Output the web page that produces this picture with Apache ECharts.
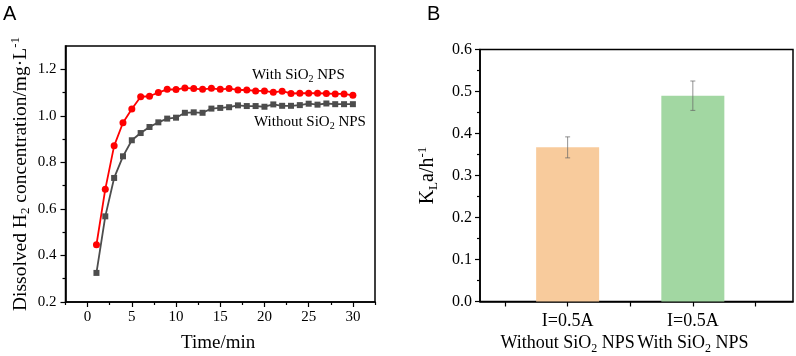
<!DOCTYPE html>
<html><head><meta charset="utf-8">
<script src="https://cdn.jsdelivr.net/npm/echarts@6/dist/echarts.min.js"></script>
<style>html,body{margin:0;padding:0;background:#fff}#c{width:796px;height:356px}</style>
</head><body><div id="c"></div>
<script>
// ---- Data (panel A) ----
const timeMin = [1,2,3,4,5,6,7,8,9,10,11,12,13,14,15,16,17,18,19,20,21,22,23,24,25,26,27,28,29,30];
const withSiO2 = [0.446,0.685,0.871,0.970,1.029,1.082,1.084,1.100,1.114,1.113,1.120,1.117,1.114,1.118,1.114,1.117,1.111,1.111,1.107,1.107,1.101,1.106,1.096,1.097,1.097,1.097,1.096,1.094,1.094,1.088];
const withoutSiO2 = [0.325,0.568,0.733,0.826,0.895,0.926,0.952,0.972,0.988,0.992,1.013,1.015,1.013,1.031,1.034,1.037,1.045,1.042,1.042,1.039,1.049,1.043,1.043,1.046,1.052,1.048,1.053,1.050,1.050,1.050];
const timeTicks = [0,5,10,15,20,25,30];
const timeMinorTicks = [-2.5,2.5,7.5,12.5,17.5,22.5,27.5,32.5];
const h2Ticks = [0.2,0.4,0.6,0.8,1.0,1.2];
const h2MinorTicks = [0.3,0.5,0.7,0.9,1.1];
const seriesNames = ['With SiO₂ NPS','Without SiO₂ NPS'];
const timeAxisTitle = 'Time/min';

// ---- Data (panel B) ----
const barCategories = ['I=0.5A\nWithout SiO₂ NPS','I=0.5A\nWith SiO₂ NPS'];
const barPositions = [1,2];
const klaValues = [0.367,0.490];
const klaErrors = [0.025,0.035];
const barColors = ['#F8CB9C','#A2D7A2'];
const barGroupTicks = [0.5,1,1.5,2,2.5];
const klaTicks = [0,0.1,0.2,0.3,0.4,0.5,0.6];
const klaMinorTicks = [0.05,0.15,0.25,0.35,0.45,0.55];

const SERIF = 'Liberation Serif';
function toRich(s){ return s.replace(/₂/g,'{sub|2}').replace(/⁻¹/g,'{sup|-1}'); }
function richStyles(fs){
  const small = Math.round(fs*0.66);
  return {
    sub:{fontSize:small,fontFamily:SERIF,fontWeight:'normal',color:'#000',lineHeight:Math.round(fs*0.45),verticalAlign:'bottom'},
    sup:{fontSize:small,fontFamily:SERIF,fontWeight:'normal',color:'#000',lineHeight:Math.round(fs*0.45),verticalAlign:'top'}
  };
}
const tickStyle = {color:'#000',width:1.2};
const lineStyle = {color:'#000',width:1.6};

const chart = echarts.init(document.getElementById('c'),null,{renderer:'canvas'});
const option = {
  animation:false,
  backgroundColor:'#fff',
  grid:[
    {left:65.5,top:46,width:309.5,height:256,show:true,borderColor:'#000',borderWidth:1.5,backgroundColor:'transparent'},
    {left:480,top:49.5,width:313,height:252,show:true,borderColor:'#000',borderWidth:1.5,backgroundColor:'transparent'}
  ],
  xAxis:[
    {gridIndex:0,type:'value',position:'bottom',min:-2.5,max:32.5,
     axisLine:{show:true,onZero:false,lineStyle:lineStyle},
     axisTick:{show:true,inside:false,length:5,lineStyle:tickStyle,customValues:timeTicks},
     axisLabel:{customValues:timeTicks,color:'#000',fontFamily:SERIF,fontSize:15,margin:8},
     splitLine:{show:false}},
    {gridIndex:0,type:'value',position:'bottom',min:-2.5,max:32.5,
     axisLine:{show:false,onZero:false},
     axisTick:{show:true,length:3,lineStyle:tickStyle,customValues:timeMinorTicks},
     axisLabel:{show:false},splitLine:{show:false}},
    {gridIndex:1,type:'value',position:'bottom',min:0.3,max:2.8,
     axisLine:{show:true,onZero:false,lineStyle:lineStyle},
     axisTick:{show:true,length:5,lineStyle:tickStyle,customValues:barGroupTicks},
     axisLabel:{customValues:barPositions,color:'#000',fontFamily:SERIF,fontSize:18,lineHeight:22,margin:9,
       formatter:function(v){const i=barPositions.indexOf(v);return i<0?'':toRich(barCategories[i]);},
       rich:richStyles(18)},
     splitLine:{show:false}}
  ],
  yAxis:[
    {gridIndex:0,type:'value',position:'left',min:0.2,max:1.3,
     axisLine:{show:true,onZero:false,lineStyle:lineStyle},
     axisTick:{show:true,length:5,lineStyle:tickStyle,customValues:h2Ticks},
     axisLabel:{customValues:h2Ticks,color:'#000',fontFamily:SERIF,fontSize:15,margin:9,
       formatter:function(v){return v.toFixed(1);}},
     splitLine:{show:false},
     name:toRich('Dissolved H₂ concentration/mg·L⁻¹'),nameLocation:'middle',nameGap:33,nameRotate:90,
     nameTextStyle:{fontFamily:SERIF,fontSize:19.5,fontWeight:'normal',color:'#000',lineHeight:23,rich:richStyles(19.5)}},
    {gridIndex:0,type:'value',position:'left',min:0.2,max:1.3,
     axisLine:{show:false,onZero:false},
     axisTick:{show:true,length:3,lineStyle:tickStyle,customValues:h2MinorTicks},
     axisLabel:{show:false},splitLine:{show:false}},
    {gridIndex:1,type:'value',position:'left',min:0,max:0.6,
     axisLine:{show:true,onZero:false,lineStyle:lineStyle},
     axisTick:{show:true,length:5,lineStyle:tickStyle,customValues:klaTicks},
     axisLabel:{customValues:klaTicks,color:'#000',fontFamily:SERIF,fontSize:16,margin:8,
       formatter:function(v){return v.toFixed(1);}},
     splitLine:{show:false},
     name:'K{subL|L}a/h{sup|-1}',nameLocation:'middle',nameGap:40,nameRotate:90,
     nameTextStyle:{fontFamily:SERIF,fontSize:20,fontWeight:'normal',color:'#000',lineHeight:24,
       rich:Object.assign(richStyles(20),{subL:{fontSize:13,fontFamily:SERIF,fontWeight:'normal',color:'#000',lineHeight:9,verticalAlign:'bottom'}})}},
    {gridIndex:1,type:'value',position:'left',min:0,max:0.6,
     axisLine:{show:false,onZero:false},
     axisTick:{show:true,length:3,lineStyle:tickStyle,customValues:klaMinorTicks},
     axisLabel:{show:false},splitLine:{show:false}}
  ],
  series:[
    {name:seriesNames[0],type:'line',xAxisIndex:0,yAxisIndex:0,
     data:timeMin.map((t,i)=>[t,withSiO2[i]]),
     symbol:'circle',symbolSize:7,lineStyle:{color:'#FF0000',width:1.8},itemStyle:{color:'#FF0000'}},
    {name:seriesNames[1],type:'line',xAxisIndex:0,yAxisIndex:0,
     data:timeMin.map((t,i)=>[t,withoutSiO2[i]]),
     symbol:'rect',symbolSize:6,lineStyle:{color:'#4D4D4D',width:1.8},itemStyle:{color:'#4D4D4D'}},
    {type:'bar',xAxisIndex:2,yAxisIndex:2,barWidth:63,z:2,
     data:barPositions.map((x,i)=>({value:[x,klaValues[i]],itemStyle:{color:barColors[i]}}))},
    {type:'custom',xAxisIndex:2,yAxisIndex:2,z:5,
     data:barPositions.map((x,i)=>[x,klaValues[i]-klaErrors[i],klaValues[i]+klaErrors[i]]),
     encode:{x:0,y:[1,2]},
     renderItem:function(params,api){
       const x=api.value(0),lo=api.value(1),hi=api.value(2);
       const a=api.coord([x,hi]),b=api.coord([x,lo]);
       const c=2.5,st={stroke:'rgba(100,100,100,0.7)',lineWidth:1};
       return {type:'group',children:[
         {type:'line',shape:{x1:a[0],y1:a[1],x2:b[0],y2:b[1]},style:st},
         {type:'line',shape:{x1:a[0]-c,y1:a[1],x2:a[0]+c,y2:a[1]},style:st},
         {type:'line',shape:{x1:b[0]-c,y1:b[1],x2:b[0]+c,y2:b[1]},style:st}
       ]};
     }}
  ],
  graphic:[
    {type:'text',left:3,top:4,style:{text:'A',fontFamily:'Liberation Sans',fontSize:20,fill:'#000'}},
    {type:'text',left:427,top:4,style:{text:'B',fontFamily:'Liberation Sans',fontSize:20,fill:'#000'}},
    {type:'text',left:181,top:334,style:{text:timeAxisTitle,fontFamily:SERIF,fontSize:19,fontWeight:'normal',fill:'#000'}},
    {type:'text',left:252,top:66,style:{text:toRich(seriesNames[0]),fontFamily:SERIF,fontSize:15,lineHeight:18,fill:'#000',rich:richStyles(15)}},
    {type:'text',left:254,top:113,style:{text:toRich(seriesNames[1]),fontFamily:SERIF,fontSize:15,lineHeight:18,fill:'#000',rich:richStyles(15)}}
  ]
};
chart.setOption(option);
</script></body></html>
